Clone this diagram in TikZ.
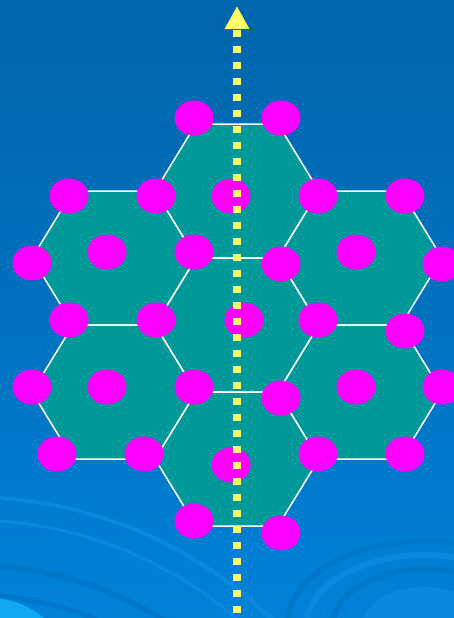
\documentclass[tikz,border=0pt]{standalone}
\usepackage{xcolor}
\usepackage{tikz}
\usetikzlibrary{arrows.meta}

\definecolor{skytop}{HTML}{0066AD}
\definecolor{skylow}{HTML}{0082D8}
\definecolor{ringdark}{HTML}{0078CA}
\definecolor{ringlight}{HTML}{0A88DC}
\definecolor{blobcyan}{HTML}{10A8F0}
\definecolor{cellteal}{HTML}{009999}
\definecolor{atommag}{HTML}{FF00FF}
\definecolor{axisyel}{HTML}{FFFF66}

\tikzset{
  cell/.style={fill=cellteal,draw=white,line width=1.5pt},
  atom/.style={fill=atommag},
  ripple/.style={line width=#1},
  axisline/.style={draw=axisyel,line width=8pt,dash pattern=on 7pt off 9pt,dash phase=11pt,
    -{Triangle[width=23pt,length=23pt,fill=axisyel]}}
}

\begin{document}
\begin{tikzpicture}[x=1pt,y=-1pt]
  \useasboundingbox (0,0) rectangle (454,618);
  \shade[top color=skytop,bottom color=skylow,middle color=skytop!60!skylow] (0,0) rectangle (454,618);
  \begin{scope}
    \clip (0,0) rectangle (454,618);
    \draw[ringlight,ripple=4pt] (-30,930) circle (433);
    \draw[ringlight,ripple=3pt] (-30,930) circle (410);
    \draw[ringdark,ripple=6pt] (-30,930) circle (365);
    \draw[ringdark,ripple=5pt] (-30,930) circle (335);
    \fill[blobcyan] (-10,680) circle (82);
    \draw[ringdark,ripple=6pt] (425,625) ellipse [x radius=138,y radius=84];
    \draw[ringlight,ripple=6pt] (425,625) ellipse [x radius=118,y radius=70];
    \draw[ringdark,ripple=6pt] (425,625) ellipse [x radius=92,y radius=56];
    \fill[ringlight] (425,625) ellipse [x radius=62,y radius=38];
  \end{scope}
  \foreach \cx/\cy in {237/191,237/325,237/459,114/258,114/392,360/258,360/392}
    \draw[cell] (\cx-41,\cy-67) -- (\cx+41,\cy-67) -- (\cx+82,\cy) -- (\cx+41,\cy+67)
      -- (\cx-41,\cy+67) -- (\cx-82,\cy) -- cycle;
  \foreach \ax/\ay in {194/118,281/118,
      69/196,156/196,231/196,318/196,405/196,
      32/263,107/252,194/252,281/264,356/252,442/264,
      69/320,156/320,244/320,318/320,405/331,
      32/387,107/387,194/387,281/398,356/387,442/387,
      57/454,144/454,231/465,318/454,405/454,
      194/521,281/533}
    \fill[atom] (\ax,\ay) ellipse [x radius=19.5,y radius=17.5];
  \coordinate (foot) at (237,618);
  \coordinate (head) at (237,6);
  \draw[axisline] (foot) -- (head);
\end{tikzpicture}
\end{document}
